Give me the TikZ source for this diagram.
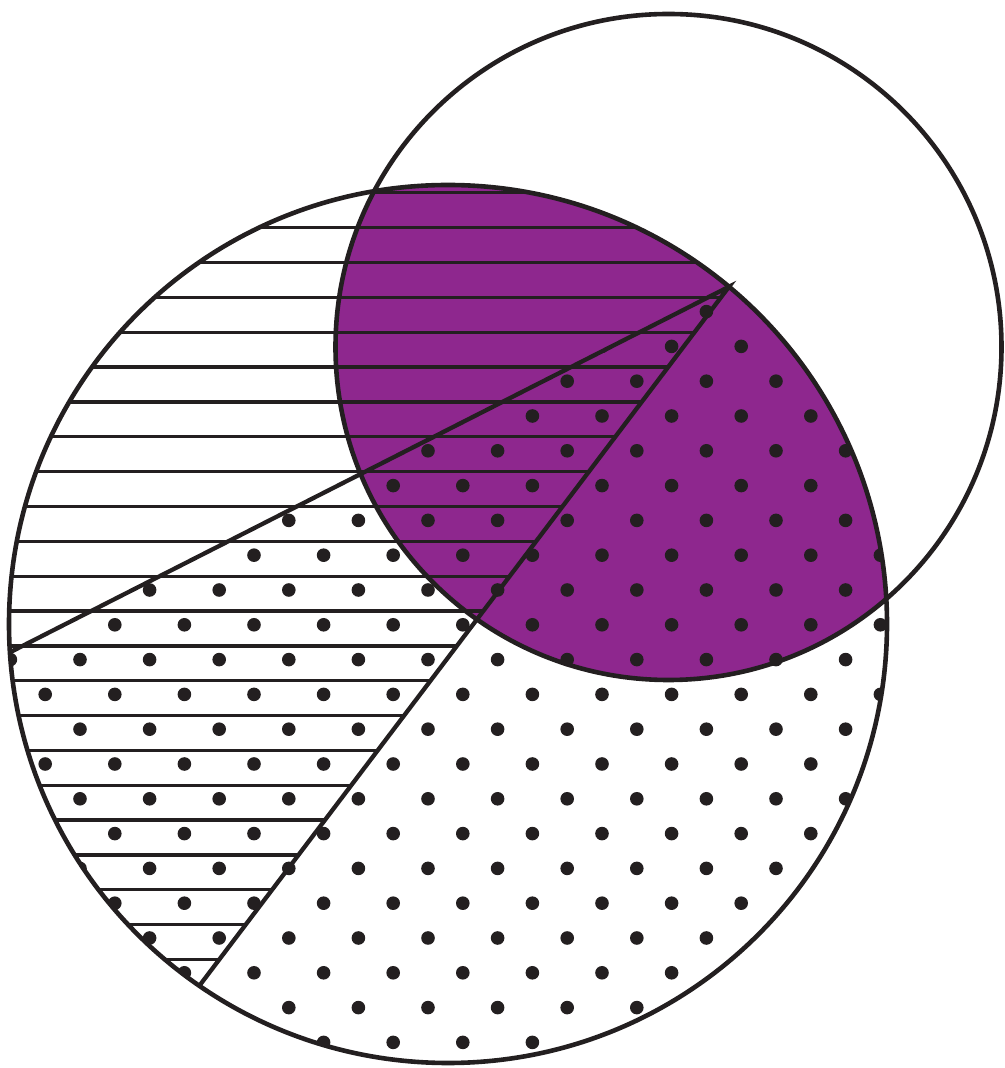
\documentclass[tikz,border=0pt]{standalone}
\usetikzlibrary{calc}
\definecolor{ink}{HTML}{231F20}
\definecolor{violet}{HTML}{8E278E}
\begin{document}
\begin{tikzpicture}[x=1pt,y=1pt,
  outline/.style={draw=ink,line width=4.6pt},
  chord/.style={draw=ink,line width=4.3pt,line cap=butt},
  hatch/.style={draw=ink,line width=3.3pt},
  dotmark/.style={fill=ink}]
\useasboundingbox (0,0) rectangle (1004,1068);
\coordinate (C1) at (448,444);
\coordinate (C2) at (668.5,721);
\coordinate (P) at ($(C1)+(50.2:439)$);
\coordinate (Q1) at ($(C1)+(183.7:439)$);
\coordinate (Q2) at ($(C1)+(235.5:439)$);
% purple lens
\begin{scope}
  \clip (C1) circle[radius=439];
  \fill[violet] (C2) circle[radius=333];
\end{scope}
% horizontal hatching, left of chord P--Q2
\begin{scope}
  \clip (P) arc[start angle=50.2, end angle=235.5, radius=439] -- cycle;
  \foreach \k in {0,...,26} {
    \draw[hatch] (0,{875.15-34.85*\k}) -- (1004,{875.15-34.85*\k});
  }
\end{scope}
% dots, below chord Q1--P
\begin{scope}
  \clip (Q1) arc[start angle=183.7, end angle=410.2, radius=439] -- cycle;
  \foreach \i in {0,2,...,26} {
    \foreach \j in {-12,-10,...,14} {
      \fill[dotmark] ({10.4+34.8*\i},{478-34.8*\j}) circle[radius=6.8];
    }
  }
  \foreach \i in {1,3,...,27} {
    \foreach \j in {-13,-11,...,15} {
      \fill[dotmark] ({10.4+34.8*\i},{478-34.8*\j}) circle[radius=6.8];
    }
  }
\end{scope}
% chords
\draw[chord] (Q1) -- (P) -- (Q2);
% circles
\draw[outline] (C1) circle[radius=439];
\draw[outline] (C2) circle[radius=333];
\end{tikzpicture}
\end{document}
